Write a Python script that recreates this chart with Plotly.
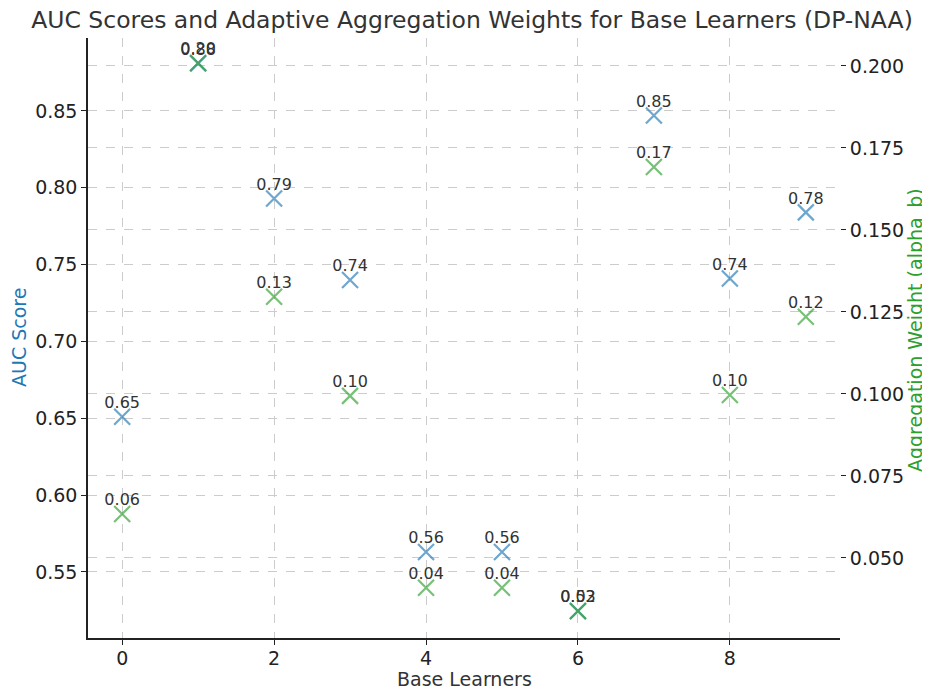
import plotly.graph_objects as go

learners = [0, 1, 2, 3, 4, 5, 6, 7, 8, 9]
auc_scores = [0.651, 0.881, 0.793, 0.740, 0.563, 0.563, 0.5246, 0.847, 0.741, 0.784]
weights = [0.0634, 0.2009, 0.1296, 0.0994, 0.0409, 0.0409, 0.0338, 0.1692, 0.0997, 0.1235]

FONT = "DejaVu Sans"
W, H = 922, 682
ML, MR, MT, MB = 80, 90, 30, 52
PW, PH = W - ML - MR, H - MT - MB

fig = go.Figure()
for vals, col, ax in [(auc_scores, "rgba(31,119,180,0.65)", "y"),
                      (weights, "rgba(44,160,44,0.65)", "y2")]:
    fig.add_trace(go.Scatter(
        x=learners, y=vals, mode="markers",
        marker=dict(symbol="x-thin", size=16, line=dict(width=2.2, color=col)),
        yaxis=ax, showlegend=False, cliponaxis=False,
    ))
    fig.add_trace(go.Scatter(
        x=learners, y=vals, mode="markers+text",
        marker=dict(size=6, opacity=0),
        texttemplate="%{y:.2f}", textposition="top center",
        textfont=dict(family=FONT, size=16, color="#333333"),
        yaxis=ax, showlegend=False, cliponaxis=False, hoverinfo="skip",
    ))

grid = dict(showgrid=True, gridcolor="#cccccc", griddash="dash", gridwidth=1)
fig.update_layout(
    width=W, height=H,
    margin=dict(l=ML, r=MR, t=MT, b=MB),
    paper_bgcolor="white", plot_bgcolor="white",
    font=dict(family=FONT, size=19, color="#222222"),
    title=dict(text="AUC Scores and Adaptive Aggregation Weights for Base Learners (DP-NAA)",
               x=464 / W, xanchor="center", y=1 - 12 / H, yanchor="middle",
               font=dict(family=FONT, size=23.5, color="#333333")),
    xaxis=dict(range=[-0.45, 9.45], tickvals=[0, 2, 4, 6, 8], automargin=False,
               showline=True, linecolor="#222222", linewidth=1.5, ticklabelstandoff=-3,
               ticks="outside", ticklen=5, tickcolor="#222222", zeroline=False, **grid),
    yaxis=dict(range=[0.507, 0.8975], tickvals=[0.55, 0.60, 0.65, 0.70, 0.75, 0.80, 0.85],
               tickformat=".2f", automargin=False,
               showline=True, linecolor="#222222", linewidth=1.5,
               ticks="outside", ticklen=5, tickcolor="#222222", zeroline=False, **grid),
    yaxis2=dict(range=[0.0256, 0.2085], overlaying="y", side="right", automargin=False,
                tickvals=[0.050, 0.075, 0.100, 0.125, 0.150, 0.175, 0.200], tickformat=".3f",
                showline=False, ticks="outside", ticklen=5, tickcolor="#222222",
                zeroline=False, **grid),
    annotations=[
        dict(text="Base Learners", xref="paper", yref="paper", x=0.5, y=-(671 - MT - PH) / PH,
             xanchor="center", yanchor="middle", showarrow=False,
             font=dict(family=FONT, size=19, color="#333333")),
        dict(text="AUC Score", xref="paper", yref="paper", x=-(ML - 11) / PW, y=1 - (330 - MT) / PH,
             xanchor="center", yanchor="middle", textangle=-90, showarrow=False,
             font=dict(family=FONT, size=19, color="#1f77b4")),
        dict(text="Aggregation Weight (alpha_b)", xref="paper", yref="paper",
             x=1 + (907 - ML - PW) / PW, y=1 - (322 - MT) / PH,
             xanchor="center", yanchor="middle", textangle=-90, showarrow=False,
             font=dict(family=FONT, size=19, color="#2ca02c")),
    ],
)

fig.write_html("out.html")
